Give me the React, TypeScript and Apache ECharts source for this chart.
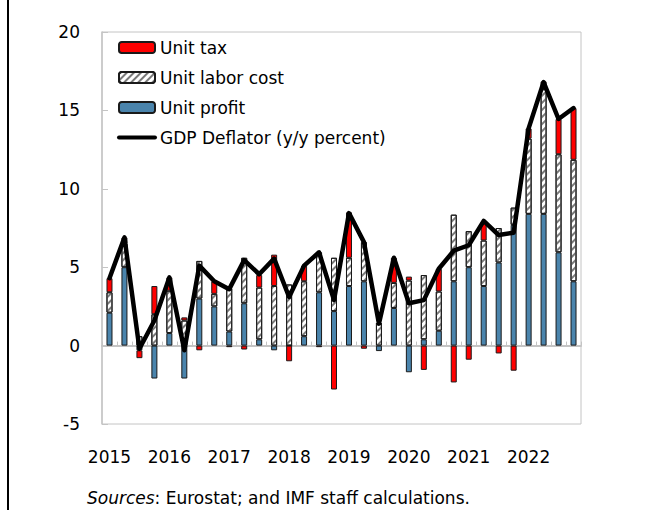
import React, { useEffect, useRef } from "react";
import * as echarts from "echarts";

const years = ["2015", "2016", "2017", "2018", "2019", "2020", "2021", "2022"];
const categories: string[] = [];
years.forEach((y) => ["Q1", "Q2", "Q3", "Q4"].forEach((q) => categories.push(y + q)));

const unitProfit = [2.1, 5.0, -0.3, -2.1, 0.8, -2.1, 3.0, 2.5, 0.9, 2.7, 0.4, -0.3, 0.0, 0.6, 3.4, 2.2, 3.8, 4.1, -0.35, 2.4, -1.7, 0.4, 0.95, 4.1, 5.0, 3.8, 5.3, 7.7, 8.4, 8.4, 5.95, 4.1];
const unitLabor = [1.3, 1.5, 0.6, 2.0, 2.7, 1.6, 2.4, 0.8, 2.75, 2.9, 3.3, 3.8, 3.9, 3.5, 2.55, 3.4, 1.8, 2.5, 1.4, 1.6, 4.15, 4.1, 2.5, 4.25, 2.3, 2.9, 2.2, 1.1, 4.8, 7.95, 6.25, 7.75];
const unitTax = [0.9, 0.4, -0.5, 1.8, 0.85, 0.2, -0.3, 0.8, -0.1, -0.25, 0.8, 2.0, -1.0, 1.0, -0.1, -2.8, 2.9, -0.2, 0, 1.6, 0.25, -1.55, 1.45, -2.35, -0.9, 1.2, -0.5, -1.6, 0.65, 0.5, 2.25, 3.3];
const deflator = [4.3, 6.9, -0.2, 1.6, 4.35, -0.3, 5.1, 4.1, 3.6, 5.45, 4.55, 5.55, 3.1, 5.1, 5.95, 2.9, 8.45, 6.6, 1.4, 5.6, 2.7, 2.9, 4.9, 6.05, 6.4, 7.95, 7.05, 7.2, 13.85, 16.8, 14.45, 15.15];

const NAME_TAX = "Unit tax";
const NAME_LABOR = "Unit labor cost";
const NAME_PROFIT = "Unit profit";
const NAME_DEFL = "GDP Deflator (y/y percent)";

export default function App() {
  const ref = useRef<HTMLDivElement>(null);
  useEffect(() => {
    const chart = echarts.init(ref.current!, null, { renderer: "svg" });
    const font = "'DejaVu Sans', sans-serif";
    const fs = 17;
    const gray = "#c4c4c4";
    const border = "#1a1a1a";
    chart.setOption({
      animation: false,
      backgroundColor: "#ffffff",
      textStyle: { fontFamily: font, color: "#000" },
      grid: {
        left: 102,
        top: 32,
        width: 479,
        height: 392,
        show: true,
        borderColor: gray,
        borderWidth: 1,
      },
      legend: {
        orient: "vertical",
        left: 117,
        top: 39,
        padding: 0,
        itemWidth: 36,
        itemHeight: 11,
        itemGap: 13,
        data: [
          NAME_TAX,
          NAME_LABOR,
          NAME_PROFIT,
          { name: NAME_DEFL, itemStyle: { opacity: 0 }, lineStyle: { width: 4, color: "#000" } },
        ],
        textStyle: { fontSize: fs, color: "#000", fontFamily: font },
      },
      xAxis: [
        {
          type: "category",
          data: categories,
          position: "bottom",
          axisLine: { show: true, onZero: true, lineStyle: { color: gray, width: 2 } },
          axisTick: { show: true, inside: true, length: 4, interval: 0, lineStyle: { color: gray } },
          axisLabel: { show: false },
          splitLine: { show: false },
        },
        {
          type: "category",
          data: categories,
          position: "bottom",
          axisLine: { show: false, onZero: false },
          axisTick: { show: false },
          splitLine: { show: false },
          axisLabel: {
            interval: 3,
            margin: 24,
            fontSize: fs,
            color: "#000",
            fontFamily: font,
            formatter: (_v: string, i: number) => years[Math.floor(i / 4)],
          },
        },
      ],
      yAxis: {
        type: "value",
        min: -5,
        max: 20,
        interval: 5,
        axisLine: { show: true, lineStyle: { color: gray, width: 1.5 } },
        axisTick: { show: true, inside: true, length: 6, lineStyle: { color: gray } },
        splitLine: { show: false },
        axisLabel: { fontSize: fs, color: "#000", margin: 22, fontFamily: font },
      },
      series: [
        {
          name: NAME_PROFIT,
          type: "bar",
          stack: "total",
          data: unitProfit,
          barWidth: 6,
          itemStyle: { color: "#4A84AC", borderColor: border, borderWidth: 1 },
        },
        {
          name: NAME_LABOR,
          type: "bar",
          stack: "total",
          data: unitLabor,
          barWidth: 6,
          itemStyle: {
            color: "#ffffff",
            borderColor: border,
            borderWidth: 1,
            decal: {
              symbol: "rect",
              symbolSize: 1,
              color: "#7a7a7a",
              dashArrayX: [1, 0],
              dashArrayY: [1.5, 2.5],
              rotation: -Math.PI / 4,
            },
          },
        },
        {
          name: NAME_TAX,
          type: "bar",
          stack: "total",
          data: unitTax,
          barWidth: 6,
          itemStyle: { color: "#ff0000", borderColor: border, borderWidth: 1 },
        },
        {
          name: NAME_DEFL,
          type: "line",
          data: deflator,
          symbol: "none",
          z: 5,
          itemStyle: { color: "#000" },
          lineStyle: { color: "#000", width: 4.5, join: "round", cap: "round" },
        },
      ],
      graphic: [
        { type: "rect", shape: { x: 7, y: 0, width: 2, height: 510 }, style: { fill: "#000" } },
        {
          type: "text",
          left: 87,
          top: 489,
          style: {
            text: "{i|Sources}: Eurostat; and IMF staff calculations.",
            fontSize: fs,
            fontFamily: font,
            fill: "#000",
            rich: { i: { fontStyle: "italic", fontSize: fs, fontFamily: font, fill: "#000" } },
          },
        },
      ],
    });
    return () => chart.dispose();
  }, []);
  return <div ref={ref} style={{ position: "absolute", left: 0, top: 0, width: 645, height: 510 }} />;
}
